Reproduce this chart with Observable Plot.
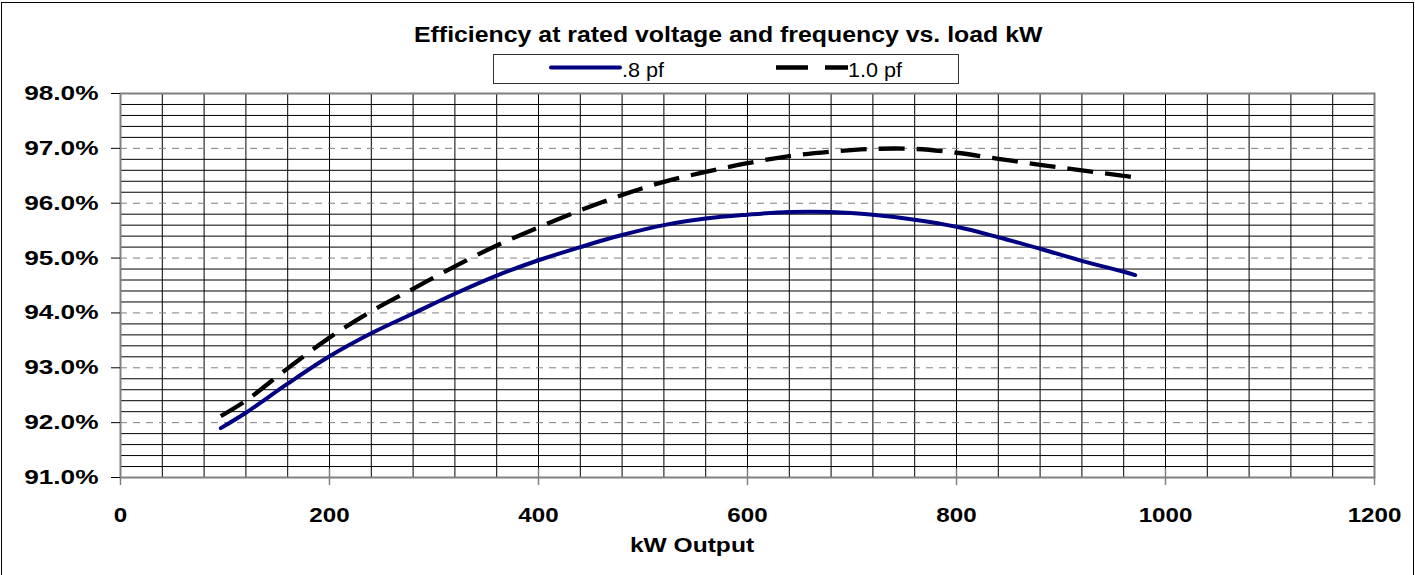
<!DOCTYPE html>
<html><head><meta charset="utf-8">
<script src="https://cdn.jsdelivr.net/npm/d3@7"></script>
<script src="https://cdn.jsdelivr.net/npm/@observablehq/plot@0.6"></script>
<style>
html,body{margin:0;padding:0;background:#fff;overflow:hidden;}
#wrap{position:relative;width:1415px;height:575px;overflow:hidden;}
#border{position:absolute;left:1px;top:2px;width:1413px;height:600px;border:1px solid #000;box-sizing:border-box;}
#chart,#overlay{position:absolute;left:0;top:0;}
#overlay{pointer-events:none;}
</style></head><body>
<div id="wrap"><div id="border"></div><div id="chart"></div><svg id="overlay" width="1415" height="575"></svg></div>
<script>
// ---- data ----
const kw   = [96, 120, 160, 200, 240, 280, 320, 360, 400, 440, 480, 520, 560, 600, 640, 680, 720, 760, 800, 840, 880, 920, 960, 971];
const pf08 = [91.90, 92.18, 92.71, 93.21, 93.63, 93.99, 94.35, 94.68, 94.96, 95.20, 95.42, 95.60, 95.72, 95.79, 95.84, 95.84, 95.79, 95.70, 95.57, 95.38, 95.17, 94.95, 94.75, 94.69];
const pf10 = [92.12, 92.40, 92.99, 93.55, 94.03, 94.44, 94.85, 95.23, 95.56, 95.87, 96.15, 96.39, 96.57, 96.73, 96.86, 96.94, 96.99, 96.99, 96.92, 96.81, 96.70, 96.60, 96.50, 96.47];
const seriesNames = [".8 pf", "1.0 pf"];
const xTicks = [0, 200, 400, 600, 800, 1000, 1200];
const yTicks = [91, 92, 93, 94, 95, 96, 97, 98];
const xMinor = d3.range(40, 1200, 40);
const yMinor = d3.range(91.2, 98, 0.2).filter(v => Math.abs(v - Math.round(v)) > 0.05);
const yMajorGrid = [92, 93, 94, 95, 96, 97];
const xUpperTicks = [200, 400, 600, 800, 1000];
const titleText = "Efficiency at rated voltage and frequency vs. load kW";
const xLabelText = "kW Output";

const s08 = kw.map((k, i) => ({kw: k, eff: pf08[i], series: seriesNames[0]}));
const s10 = kw.map((k, i) => ({kw: k, eff: pf10[i], series: seriesNames[1]}));

const FONT = "'Liberation Sans', Arial, Helvetica, sans-serif";

const chart = Plot.plot({
  width: 1415,
  height: 575,
  marginLeft: 120,
  marginRight: 41,
  marginTop: 93,
  marginBottom: 98,
  style: {fontFamily: FONT, background: "transparent", color: "#000", overflow: "visible"},
  x: {domain: [0, 1200], ticks: xTicks},
  y: {domain: [91, 98], ticks: yTicks},
  marks: [
    Plot.ruleY(yMinor, {stroke: "#000", strokeWidth: 1}),
    Plot.ruleX(xMinor, {stroke: "#000", strokeWidth: 1}),
    Plot.ruleY(yMajorGrid, {stroke: "#808080", strokeWidth: 1, strokeDasharray: "7,6"}),
    Plot.frame({stroke: "#808080", strokeWidth: 2}),
    Plot.ruleX(xUpperTicks, {y1: 91, y2: 91.16, stroke: "#808080", strokeWidth: 1.5}),
    Plot.axisY({ticks: yTicks, tickFormat: d => d.toFixed(1) + "%", tickSize: 9, tickPadding: 13,
      fontSize: 20.5, fontWeight: "bold", label: null}),
    Plot.axisX({ticks: xTicks, tickFormat: d => String(d), tickSize: 8, tickPadding: 22,
      fontSize: 21, fontWeight: "bold", label: null}),
    Plot.line(s08, {x: "kw", y: "eff", stroke: "#000080", strokeWidth: 4, curve: "catmull-rom", strokeLinecap: "round"}),
    Plot.line(s10, {x: "kw", y: "eff", stroke: "#000", strokeWidth: 4.3, curve: "catmull-rom", strokeDasharray: "26,12", strokeLinecap: "butt"})
  ]
});
document.getElementById("chart").appendChild(chart);

// horizontal stretch of tick labels to match original rendering
function stretch(selector, s) {
  chart.querySelectorAll(selector).forEach(t => {
    const tr = t.getAttribute("transform");
    if (tr) t.setAttribute("transform", tr + ` scale(${s},1)`);
    else {
      const x = +t.getAttribute("x") || 0;
      t.setAttribute("transform", `translate(${x},0) scale(${s},1) translate(${-x},0)`);
    }
  });
}
stretch('g[aria-label="y-axis tick label"] text', 1.28);
stretch('g[aria-label="x-axis tick label"] text', 1.15);
chart.querySelectorAll('g[aria-label="x-axis tick"]').forEach(g => { g.setAttribute("stroke", "#808080"); g.setAttribute("stroke-width", "1.5"); });
chart.querySelectorAll('g[aria-label="y-axis tick"]').forEach(g => { g.setAttribute("stroke", "#000"); });

// ---- overlay: title, legend, x label ----
const ov = d3.select("#overlay").style("font-family", FONT);
ov.append("text").attr("transform", "translate(414,41.7) scale(1.13,1)")
  .attr("font-size", 22).attr("font-weight", "bold").attr("fill", "#000").text(titleText);

ov.append("rect").attr("x", 493.5).attr("y", 54.5).attr("width", 465).attr("height", 29)
  .attr("fill", "#fff").attr("stroke", "#333").attr("stroke-width", 1);
ov.append("line").attr("x1", 551).attr("x2", 620).attr("y1", 67.5).attr("y2", 67.5)
  .attr("stroke", "#000080").attr("stroke-width", 4).attr("stroke-linecap", "round");
ov.append("text").attr("transform", "translate(622,76.7) scale(1.08,1)")
  .attr("font-size", 20).attr("fill", "#000").text(seriesNames[0]);
ov.append("line").attr("x1", 776).attr("x2", 848).attr("y1", 67.5).attr("y2", 67.5)
  .attr("stroke", "#000").attr("stroke-width", 4.3).attr("stroke-dasharray", "32,17");
ov.append("text").attr("transform", "translate(848,76.7) scale(1.08,1)")
  .attr("font-size", 20).attr("fill", "#000").text(seriesNames[1]);

ov.append("text").attr("transform", "translate(692,551.5) scale(1.17,1)")
  .attr("text-anchor", "middle").attr("font-size", 21).attr("font-weight", "bold").attr("fill", "#000").text(xLabelText);
</script>
</body></html>
